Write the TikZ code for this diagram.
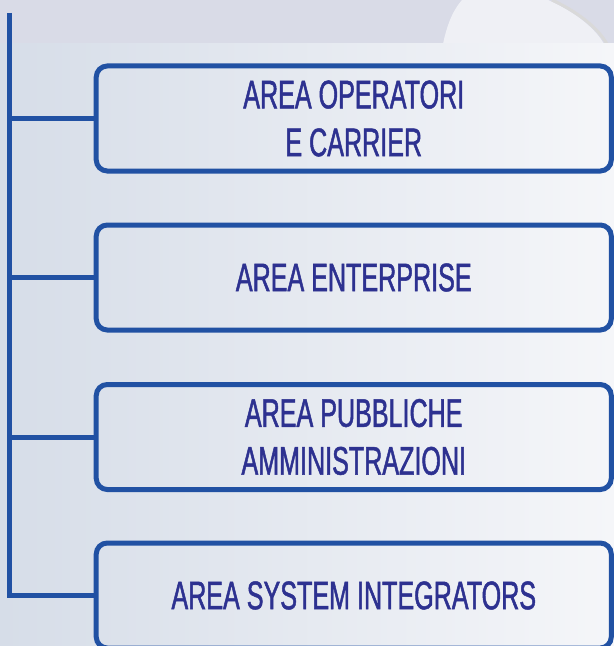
\documentclass[tikz,border=0pt]{standalone}
\usepackage{fontspec}
\newfontfamily\areafont{Liberation Sans}[FakeStretch=0.63, FakeBold=1.2]
\usepackage{tikz}
\definecolor{linkblue}{HTML}{2151A3}
\definecolor{textblue}{HTML}{2D3190}
\definecolor{bandgrey}{HTML}{D9DBE7}
\definecolor{bgleft}{HTML}{D6DDE8}
\definecolor{bgright}{HTML}{F5F6F9}

\begin{document}
\begin{tikzpicture}[x=1bp, y=-1bp,
  areabox/.style={draw=linkblue, line width=5bp, rounded corners=11bp,
    minimum width=515bp, minimum height=105bp, inner sep=0pt,
    align=center, text=textblue, font=\areafont\fontsize{40}{48}\selectfont},
  link/.style={draw=linkblue, line width=5bp}]

\useasboundingbox (0,0) rectangle (614,646);
\clip (0,0) rectangle (614,646);

% background
\fill[bandgrey] (0,0) rectangle (614,44);
\fill[white, opacity=0.6] (443,44) .. controls (448,20) and (455,8) .. (462,0) -- (548,0) .. controls (575,12) and (595,28) .. (604,44) -- cycle;
\draw[gray!30, line width=3bp] (552,0) .. controls (578,12) and (598,28) .. (607,44);
\shade[left color=bgleft, right color=bgright] (0,44) rectangle (614,646);

% areas
\node[areabox] (opcarrier) at (353.75,118.5) {AREA OPERATORI\\E CARRIER};
\node[areabox] (enterprise) at (353.75,277.5) {AREA ENTERPRISE};
\node[areabox] (pubamm) at (353.75,437) {AREA PUBBLICHE\\AMMINISTRAZIONI};
\node[areabox] (sysint) at (353.75,595.5) {AREA SYSTEM INTEGRATORS};

% trunk and branches
\coordinate (trunktop) at (9.5,13);
\draw[link] (trunktop) |- (sysint.west);
\draw[link] (trunktop |- opcarrier.west) -- (opcarrier.west);
\draw[link] (trunktop |- enterprise.west) -- (enterprise.west);
\draw[link] (trunktop |- pubamm.west) -- (pubamm.west);

\end{tikzpicture}
\end{document}
